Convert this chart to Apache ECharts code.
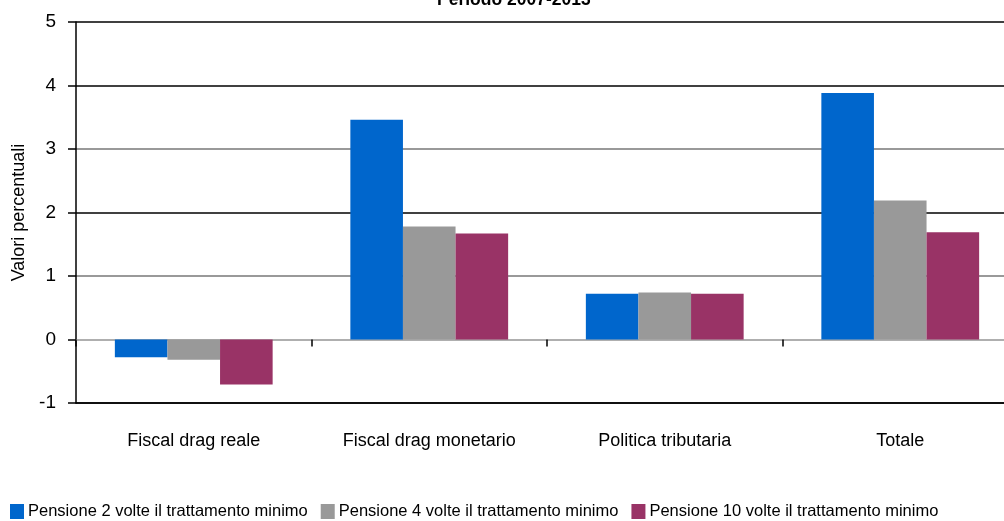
<!DOCTYPE html>
<html>
<head>
<meta charset="utf-8">
<script src="https://cdn.jsdelivr.net/npm/echarts@6/dist/echarts.min.js"></script>
<style>
  html, body { margin: 0; padding: 0; background: #fff; }
  #chart { width: 1004px; height: 521px; }
</style>
</head>
<body>
<div id="chart"></div>
<script>
var categories = ['Fiscal drag reale', 'Fiscal drag monetario', 'Politica tributaria', 'Totale'];
var seriesNames = [
    'Pensione 2 volte il trattamento minimo',
    'Pensione 4 volte il trattamento minimo',
    'Pensione 10 volte il trattamento minimo'
];
var pens2 = [-0.28, 3.46, 0.72, 3.88];
var pens4 = [-0.32, 1.78, 0.74, 2.19];
var pens10 = [-0.71, 1.67, 0.72, 1.69];
var colors = ['#0066cc', '#999999', '#993366'];

var font = '"Liberation Sans", Arial, sans-serif';

var myChart = echarts.init(document.getElementById('chart'));
var option = {
    animation: false,
    textStyle: { fontFamily: font, color: '#000' },
    title: {
        text: 'Periodo 2007-2013',
        left: 432,
        top: -14,
        textStyle: { fontFamily: font, fontSize: 17.5, fontWeight: 'bold', color: '#000' }
    },
    legend: {
        left: 5,
        top: 498,
        icon: 'rect',
        itemWidth: 14,
        itemHeight: 15,
        itemGap: 13,
        textStyle: { fontFamily: font, fontSize: 16.5, color: '#000', padding: [0, 0, 0, -1] },
        data: seriesNames
    },
    grid: {
        left: 76,
        right: -14,
        top: 22,
        bottom: 118,
        outerBoundsMode: 'none'
    },
    xAxis: [{
        type: 'category',
        data: categories,
        position: 'bottom',
        axisLine: { onZero: false, lineStyle: { color: '#000', width: 1.5 } },
        axisTick: { show: false },
        axisLabel: { fontFamily: font, fontSize: 18, color: '#000', margin: 29 },
        splitLine: { show: false }
    }, {
        type: 'category',
        data: categories,
        position: 'top',
        axisLine: { onZero: true, lineStyle: { color: '#aaa', width: 1.5 } },
        axisTick: { show: true, inside: true, length: 7, lineStyle: { color: '#000', width: 1.5 } },
        axisLabel: { show: false },
        splitLine: { show: false }
    }],
    yAxis: {
        type: 'value',
        min: -1,
        max: 5,
        interval: 1,
        name: 'Valori percentuali',
        nameLocation: 'middle',
        nameGap: 47,
        nameRotate: 90,
        nameTextStyle: { fontFamily: font, fontSize: 18, color: '#000' },
        axisLine: { show: true, lineStyle: { color: '#000', width: 1.5 } },
        axisTick: { show: true, length: 8, lineStyle: { color: '#000', width: 1.5 } },
        axisLabel: { fontFamily: font, fontSize: 19, color: '#000', margin: 20 },
        splitLine: {
            show: true,
            lineStyle: { color: ['#000', '#aaa', '#777', '#000', '#777', '#000', '#000'], width: 1.5 }
        }
    },
    series: [{
        name: seriesNames[0],
        type: 'bar',
        data: pens2,
        barGap: '0%',
        barCategoryGap: '33%',
        itemStyle: { color: colors[0] }
    }, {
        name: seriesNames[1],
        type: 'bar',
        data: pens4,
        barGap: '0%',
        barCategoryGap: '33%',
        itemStyle: { color: colors[1] }
    }, {
        name: seriesNames[2],
        type: 'bar',
        data: pens10,
        barGap: '0%',
        barCategoryGap: '33%',
        itemStyle: { color: colors[2] }
    }]
};
myChart.setOption(option);

window.addEventListener('resize', function () {
    myChart.resize();
});
</script>
</body>
</html>
